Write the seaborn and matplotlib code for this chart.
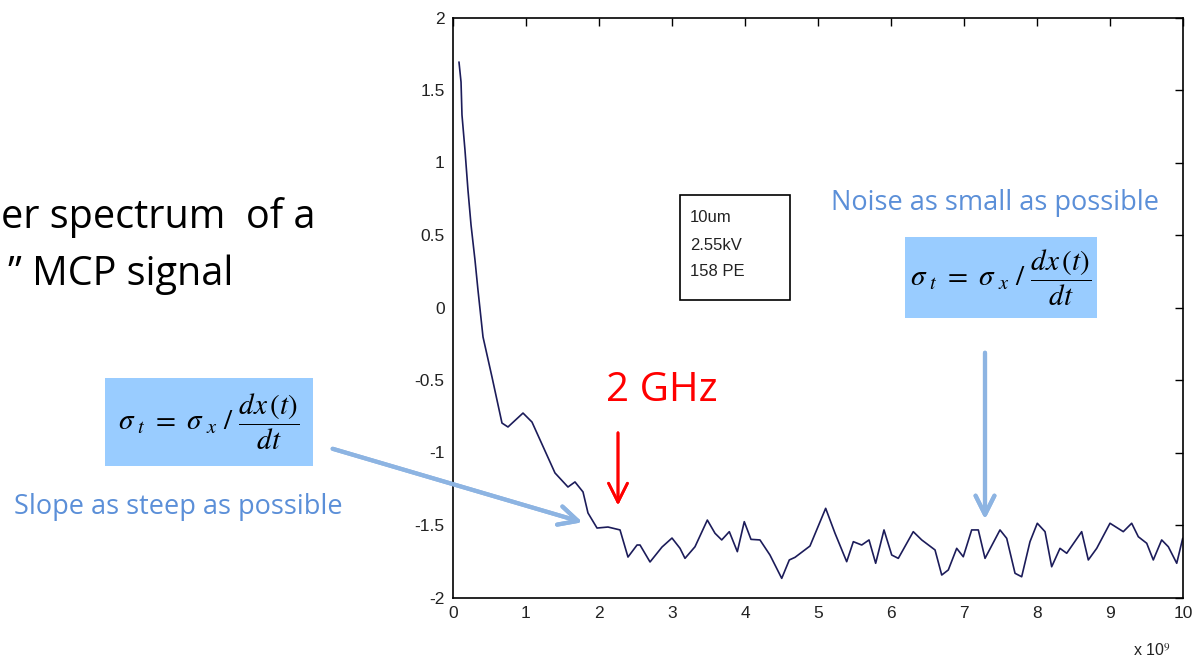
import numpy as np
import pandas as pd
import seaborn as sns
import matplotlib.pyplot as plt
from matplotlib.patches import Rectangle

# spectrum: frequency (x 1e9 Hz) and log power
freq = [0.082, 0.110, 0.123, 0.164, 0.205, 0.247, 0.301, 0.342, 0.411, 0.534,
        0.671, 0.753, 0.959, 1.082, 1.397, 1.575, 1.671, 1.781, 1.849, 1.973,
        2.123, 2.288, 2.397, 2.521, 2.562, 2.699, 2.863, 3.000, 3.110, 3.178,
        3.315, 3.484, 3.589, 3.681, 3.785, 3.895, 3.990, 4.082, 4.205, 4.342,
        4.503, 4.607, 4.685, 4.890, 5.105, 5.233, 5.393, 5.484, 5.599, 5.699,
        5.790, 5.904, 6.010, 6.100, 6.305, 6.421, 6.603, 6.695, 6.785, 6.900,
        6.990, 7.105, 7.196, 7.288, 7.493, 7.585, 7.699, 7.790, 7.904, 8.004,
        8.110, 8.201, 8.315, 8.407, 8.612, 8.703, 8.818, 9.000, 9.182, 9.297,
        9.388, 9.503, 9.593, 9.708, 9.799, 9.914, 9.996]
power = [1.693, 1.555, 1.328, 1.086, 0.810, 0.569, 0.328, 0.121, -0.203, -0.479,
         -0.797, -0.824, -0.728, -0.790, -1.141, -1.238, -1.203, -1.272, -1.417, -1.521,
         -1.514, -1.534, -1.721, -1.638, -1.638, -1.755, -1.652, -1.590, -1.661, -1.730,
         -1.650, -1.466, -1.557, -1.603, -1.546, -1.684, -1.477, -1.599, -1.603, -1.707,
         -1.868, -1.741, -1.723, -1.645, -1.385, -1.557, -1.753, -1.615, -1.638, -1.603,
         -1.764, -1.534, -1.707, -1.730, -1.546, -1.603, -1.672, -1.845, -1.810, -1.661,
         -1.719, -1.534, -1.534, -1.730, -1.534, -1.592, -1.833, -1.857, -1.615, -1.488,
         -1.546, -1.788, -1.661, -1.695, -1.546, -1.741, -1.661, -1.488, -1.546, -1.488,
         -1.581, -1.626, -1.741, -1.603, -1.650, -1.764, -1.592]

x_ticks = [0, 1, 2, 3, 4, 5, 6, 7, 8, 9, 10]
y_ticks = [-2, -1.5, -1, -0.5, 0, 0.5, 1, 1.5, 2]
y_labels = ['-2', '-1.5', '-1', '-0.5', '0', '0.5', '1', '1.5', '2']
box_lines = ['10um', '2.55kV', '158 PE']

W, H = 1193, 663

def fx(px):
    return px / W

def fy(py):
    return 1 - py / H

sns.set_style("white")
plt.rcParams['mathtext.fontset'] = 'stix'

fig = plt.figure(figsize=(W / 100, H / 100), dpi=100)
ax = fig.add_axes([fx(453), fy(597.5), (1183 - 453) / W, 580 / H])

df = pd.DataFrame({'freq': freq, 'power': power})
sns.lineplot(data=df, x='freq', y='power', ax=ax, color='#1c1c5a', lw=1.2, sort=False)

ax.set_xlim(0, 10)
ax.set_ylim(-2, 2)
ax.set_xticks(x_ticks)
ax.set_xticklabels([str(t) for t in x_ticks])
ax.set_yticks(y_ticks)
ax.set_yticklabels(y_labels)
ax.set_xlabel('')
ax.set_ylabel('')
ax.tick_params(direction='in', top=True, right=True, length=6, width=1,
               labelsize=12.5, colors='black', pad=6)
for lab in ax.get_xticklabels() + ax.get_yticklabels():
    lab.set_fontfamily('Liberation Sans')
    lab.set_color('#222222')
for s in ax.spines.values():
    s.set_color('black')
    s.set_linewidth(1.2)

# offset label for the frequency axis
fig.text(fx(1152), fy(651), r'x 10$^{9}$', fontsize=11.5, family='Liberation Sans',
         ha='center', va='center', color='#222222')

# parameter box
fig.add_artist(Rectangle((fx(680), fy(300)), 110 / W, 105 / H, transform=fig.transFigure,
                         fill=False, ec='black', lw=1.2))
for i, line in enumerate(box_lines):
    fig.text(fx(690), fy(218 + 27 * i), line, fontsize=12, family='Liberation Sans',
             ha='left', va='center', color='#222222')

# slide title fragments
fig.text(fx(1), fy(228), 'er spectrum  of a', fontsize=28.5, family='Open Sans',
         ha='left', va='baseline', color='black')
fig.text(fx(233), fy(285), '\u201d MCP signal', fontsize=28.5, family='Open Sans',
         ha='right', va='baseline', color='black')

# red marker
fig.text(fx(662), fy(391), '2 GHz', fontsize=29, family='Open Sans', color='red',
         ha='center', va='center')
fig.add_artist(plt.annotate('', xy=(fx(618), fy(508)), xytext=(fx(618), fy(430)),
                            xycoords='figure fraction', textcoords='figure fraction',
                            arrowprops=dict(arrowstyle='->', color='red', lw=2,
                                            mutation_scale=34)))

# formula boxes
formula = r'$\sigma_{\ t}\ =\ \sigma_{\ x}\ /\ \dfrac{dx\,(t)}{dt}$'
boxes = [(105, 378, 208, 88), (905, 237, 192, 81)]
for (bx, by, bw, bh) in boxes:
    fig.add_artist(Rectangle((fx(bx), fy(by + bh)), bw / W, bh / H,
                             transform=fig.transFigure, fc='#99ccff', ec='none'))
    fig.text(fx(bx + bw / 2), fy(by + bh / 2), formula, fontsize=21,
             ha='center', va='center', color='black')

blue_txt = '#5b8fd8'
fig.text(fx(178), fy(507), 'Slope as steep as possible', fontsize=19.5, family='Open Sans',
         color=blue_txt, ha='center', va='center')
fig.text(fx(995), fy(203), 'Noise as small as possible', fontsize=19.5, family='Open Sans',
         color=blue_txt, ha='center', va='center')

arrow_c = '#8db4e2'
for start, end in [((330, 448), (585, 523)), ((985, 350), (985, 522))]:
    fig.add_artist(plt.annotate('', xy=(fx(end[0]), fy(end[1])),
                                xytext=(fx(start[0]), fy(start[1])),
                                xycoords='figure fraction', textcoords='figure fraction',
                                arrowprops=dict(arrowstyle='->', color=arrow_c, lw=3,
                                                mutation_scale=34)))

fig.savefig('out.png', dpi=100)
